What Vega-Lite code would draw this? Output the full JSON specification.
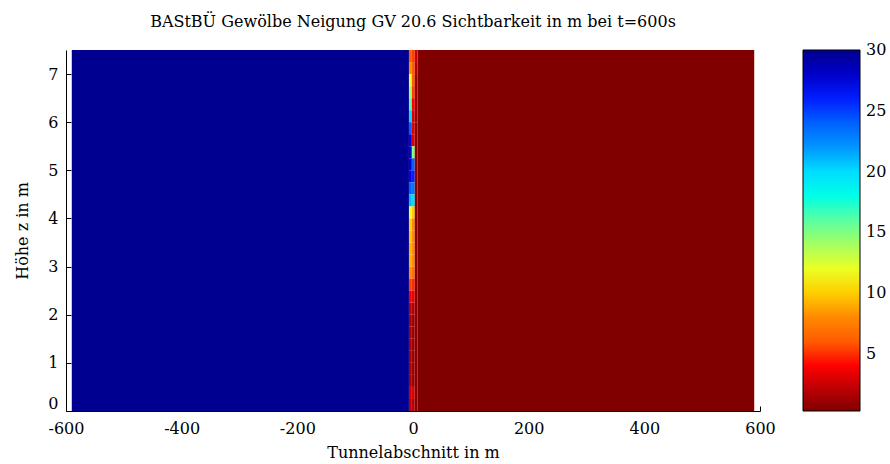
{
  "$schema": "https://vega.github.io/schema/vega-lite/v6.json",
  "width": 694,
  "height": 361,
  "autosize": "none",
  "padding": {"left": 66, "top": 50, "right": 130, "bottom": 53},
  "background": "white",
  "title": {
    "text": "BAStBÜ Gewölbe Neigung GV 20.6 Sichtbarkeit in m bei t=600s",
    "font": "DejaVu Serif",
    "fontSize": 16,
    "fontWeight": "normal",
    "color": "black",
    "anchor": "middle",
    "offset": 20
  },
  "config": {
    "view": {"stroke": null},
    "axis": {
      "labelFont": "DejaVu Serif",
      "titleFont": "DejaVu Serif",
      "labelFontSize": 16,
      "titleFontSize": 16,
      "titleFontWeight": "normal",
      "labelColor": "black",
      "titleColor": "black",
      "domainColor": "black",
      "tickColor": "black",
      "grid": false
    },
    "legend": {
      "labelFont": "DejaVu Serif",
      "labelFontSize": 16,
      "labelColor": "black"
    }
  },
  "data": {
    "values": [
      {"x0": -590, "x1": -7, "z0": 0, "z1": 7.5, "v": 30},
      {"x0": 8, "x1": 590, "z0": 0, "z1": 7.5, "v": 0.3},

      {"x0": -7, "x1": -2, "z0": 7.25, "z1": 7.5, "v": 6},
      {"x0": -7, "x1": -2, "z0": 7.0, "z1": 7.25, "v": 8},
      {"x0": -7, "x1": -2, "z0": 6.75, "z1": 7.0, "v": 12},
      {"x0": -7, "x1": -2, "z0": 6.5, "z1": 6.75, "v": 14},
      {"x0": -7, "x1": -2, "z0": 6.25, "z1": 6.5, "v": 16},
      {"x0": -7, "x1": -2, "z0": 6.0, "z1": 6.25, "v": 20},
      {"x0": -7, "x1": -2, "z0": 5.75, "z1": 6.0, "v": 24},
      {"x0": -7, "x1": -2, "z0": 5.5, "z1": 5.75, "v": 27},
      {"x0": -7, "x1": -2, "z0": 5.25, "z1": 5.5, "v": 28},
      {"x0": -7, "x1": -2, "z0": 5.0, "z1": 5.25, "v": 28},
      {"x0": -7, "x1": -2, "z0": 4.75, "z1": 5.0, "v": 27},
      {"x0": -7, "x1": -2, "z0": 4.5, "z1": 4.75, "v": 24},
      {"x0": -7, "x1": -2, "z0": 4.25, "z1": 4.5, "v": 21},
      {"x0": -7, "x1": -2, "z0": 4.0, "z1": 4.25, "v": 12},
      {"x0": -7, "x1": -2, "z0": 3.75, "z1": 4.0, "v": 10},
      {"x0": -7, "x1": -2, "z0": 3.5, "z1": 3.75, "v": 9.5},
      {"x0": -7, "x1": -2, "z0": 3.25, "z1": 3.5, "v": 9},
      {"x0": -7, "x1": -2, "z0": 3.0, "z1": 3.25, "v": 9},
      {"x0": -7, "x1": -2, "z0": 2.75, "z1": 3.0, "v": 8},
      {"x0": -7, "x1": -2, "z0": 2.5, "z1": 2.75, "v": 5},
      {"x0": -7, "x1": -2, "z0": 2.25, "z1": 2.5, "v": 3.5},
      {"x0": -7, "x1": -2, "z0": 2.0, "z1": 2.25, "v": 2},
      {"x0": -7, "x1": -2, "z0": 1.75, "z1": 2.0, "v": 1.5},
      {"x0": -7, "x1": -2, "z0": 1.5, "z1": 1.75, "v": 1.5},
      {"x0": -7, "x1": -2, "z0": 1.25, "z1": 1.5, "v": 1.5},
      {"x0": -7, "x1": -2, "z0": 1.0, "z1": 1.25, "v": 1.5},
      {"x0": -7, "x1": -2, "z0": 0.75, "z1": 1.0, "v": 1.5},
      {"x0": -7, "x1": -2, "z0": 0.5, "z1": 0.75, "v": 1.5},
      {"x0": -7, "x1": -2, "z0": 0.25, "z1": 0.5, "v": 2.5},
      {"x0": -7, "x1": -2, "z0": 0.0, "z1": 0.25, "v": 2},

      {"x0": -2, "x1": 3, "z0": 7.25, "z1": 7.5, "v": 5},
      {"x0": -2, "x1": 3, "z0": 7.0, "z1": 7.25, "v": 6},
      {"x0": -2, "x1": 3, "z0": 6.75, "z1": 7.0, "v": 6},
      {"x0": -2, "x1": 3, "z0": 6.5, "z1": 6.75, "v": 5},
      {"x0": -2, "x1": 3, "z0": 6.25, "z1": 6.5, "v": 4},
      {"x0": -2, "x1": 3, "z0": 6.0, "z1": 6.25, "v": 3},
      {"x0": -2, "x1": 3, "z0": 5.75, "z1": 6.0, "v": 3},
      {"x0": -2, "x1": 3, "z0": 5.5, "z1": 5.75, "v": 3},
      {"x0": -2, "x1": 3, "z0": 5.25, "z1": 5.5, "v": 15},
      {"x0": -2, "x1": 3, "z0": 5.0, "z1": 5.25, "v": 24},
      {"x0": -2, "x1": 3, "z0": 4.75, "z1": 5.0, "v": 26},
      {"x0": -2, "x1": 3, "z0": 4.5, "z1": 4.75, "v": 23},
      {"x0": -2, "x1": 3, "z0": 4.25, "z1": 4.5, "v": 20},
      {"x0": -2, "x1": 3, "z0": 4.0, "z1": 4.25, "v": 10},
      {"x0": -2, "x1": 3, "z0": 3.75, "z1": 4.0, "v": 8},
      {"x0": -2, "x1": 3, "z0": 3.5, "z1": 3.75, "v": 8},
      {"x0": -2, "x1": 3, "z0": 3.25, "z1": 3.5, "v": 8},
      {"x0": -2, "x1": 3, "z0": 3.0, "z1": 3.25, "v": 8},
      {"x0": -2, "x1": 3, "z0": 2.75, "z1": 3.0, "v": 7},
      {"x0": -2, "x1": 3, "z0": 2.5, "z1": 2.75, "v": 4.5},
      {"x0": -2, "x1": 3, "z0": 2.25, "z1": 2.5, "v": 3.5},
      {"x0": -2, "x1": 3, "z0": 2.0, "z1": 2.25, "v": 2},
      {"x0": -2, "x1": 3, "z0": 1.75, "z1": 2.0, "v": 1.2},
      {"x0": -2, "x1": 3, "z0": 1.5, "z1": 1.75, "v": 1.2},
      {"x0": -2, "x1": 3, "z0": 1.25, "z1": 1.5, "v": 1.2},
      {"x0": -2, "x1": 3, "z0": 1.0, "z1": 1.25, "v": 1.2},
      {"x0": -2, "x1": 3, "z0": 0.75, "z1": 1.0, "v": 1.2},
      {"x0": -2, "x1": 3, "z0": 0.5, "z1": 0.75, "v": 1.2},
      {"x0": -2, "x1": 3, "z0": 0.25, "z1": 0.5, "v": 3},
      {"x0": -2, "x1": 3, "z0": 0.0, "z1": 0.25, "v": 2},

      {"x0": 3, "x1": 8, "z0": 7.25, "z1": 7.5, "v": 2.5},
      {"x0": 3, "x1": 8, "z0": 7.0, "z1": 7.25, "v": 2},
      {"x0": 3, "x1": 8, "z0": 6.0, "z1": 7.0, "v": 1.2},
      {"x0": 3, "x1": 8, "z0": 0.0, "z1": 6.0, "v": 0.6}
    ]
  },
  "mark": {"type": "rect", "stroke": null},
  "encoding": {
    "x": {
      "field": "x0",
      "type": "quantitative",
      "scale": {"domain": [-600, 600], "nice": false, "zero": false},
      "axis": {
        "title": "Tunnelabschnitt in m",
        "values": [-600, -400, -200, 0, 200, 400, 600],
        "labelExpr": "toString(datum.value)",
        "tickSize": -5,
        "labelPadding": 14,
        "titlePadding": 8,
        "labelFlush": false
      }
    },
    "x2": {"field": "x1"},
    "y": {
      "field": "z0",
      "type": "quantitative",
      "scale": {"domain": [0, 7.5], "nice": false},
      "axis": {
        "title": "Höhe z in m",
        "values": [0, 1, 2, 3, 4, 5, 6, 7],
        "tickSize": -5,
        "labelPadding": 13,
        "titlePadding": 17,
        "labelFlush": true,
        "labelFlushOffset": 0
      }
    },
    "y2": {"field": "z1"},
    "color": {
      "field": "v",
      "type": "quantitative",
      "scale": {
        "domain": [0.3, 30.02],
        "range": ["#800000", "#ff0000", "#ff8000", "#ffff00", "#80ff80", "#00ffff", "#0080ff", "#0000ff", "#00008f"]
      },
      "legend": {
        "title": null,
        "orient": "none",
        "legendX": 737,
        "legendY": 0,
        "direction": "vertical",
        "gradientLength": 361,
        "gradientThickness": 57,
        "gradientStrokeColor": "black",
        "gradientStrokeWidth": 1,
        "values": [5, 10, 15, 20, 25, 30],
        "labelOffset": 6,
        "labelBaseline": "middle",
        "labelOverlap": false
      }
    }
  }
}
